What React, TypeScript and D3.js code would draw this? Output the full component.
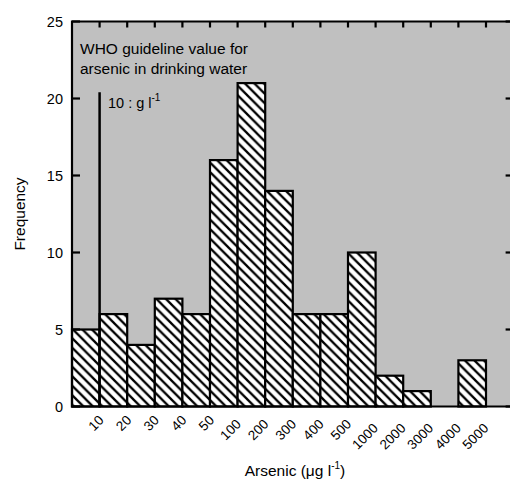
import React, { useEffect, useRef } from "react";
import * as d3 from "d3";

// bin upper edges (µg/l) and counts per bin
const binLabels = ["10", "20", "30", "40", "50", "100", "200", "300", "400", "500", "1000", "2000", "3000", "4000", "5000"];
const counts = [5, 6, 4, 7, 6, 16, 21, 14, 6, 6, 10, 2, 1, 0, 3];
const yTicks = [0, 5, 10, 15, 20, 25];
const guideline = { binEdge: 1, top: 20.4 };

const W = 510;
const H = 486;
const FONT = "'Liberation Sans', Arial, sans-serif";

const App = () => {
  const ref = useRef<SVGSVGElement>(null);

  useEffect(() => {
    drawChart();
    //eslint-disable-next-line
  }, []);

  function drawChart() {
    const svg = d3.select(ref.current);
    svg.selectAll("*").remove();

    const left = 72, top = 21.5, bottom = 406.5;
    const binW = 27.6;
    // one empty bin past the last label, right frame falls off the page
    const x = d3.scaleLinear().domain([0, binLabels.length + 1]).range([left, left + binW * (binLabels.length + 1)]);
    const y = d3.scaleLinear().domain([0, 25]).range([bottom, top]);
    const right = x(binLabels.length + 1);

    const defs = svg.append("defs");
    const pat = defs
      .append("pattern")
      .attr("id", "hatch")
      .attr("patternUnits", "userSpaceOnUse")
      .attr("width", 9.5)
      .attr("height", 9.5);
    pat.append("rect").attr("width", 9.5).attr("height", 9.5).attr("fill", "#fff");
    pat
      .append("path")
      .attr("d", "M-2,-2 L11.5,11.5 M-2,7.5 L2,11.5 M7.5,-2 L11.5,2")
      .attr("stroke", "#000")
      .attr("stroke-width", 2.3);

    // gray panel
    svg
      .append("rect")
      .attr("x", left)
      .attr("y", top)
      .attr("width", right - left)
      .attr("height", bottom - top)
      .attr("fill", "#c0c0c0");

    // bars
    svg
      .append("g")
      .selectAll("rect")
      .data(counts.map((c, i) => ({ c, i })).filter((d) => d.c > 0))
      .enter()
      .append("rect")
      .attr("x", (d) => x(d.i))
      .attr("y", (d) => y(d.c))
      .attr("width", binW)
      .attr("height", (d) => y(0) - y(d.c))
      .attr("fill", "url(#hatch)")
      .attr("stroke", "#000")
      .attr("stroke-width", 2.2);

    // guideline line
    svg
      .append("line")
      .attr("x1", x(guideline.binEdge))
      .attr("x2", x(guideline.binEdge))
      .attr("y1", y(guideline.top))
      .attr("y2", y(0))
      .attr("stroke", "#000")
      .attr("stroke-width", 2.5);

    // frame
    svg
      .append("path")
      .attr("d", `M${right},${top} L${left},${top} L${left},${bottom} L${right},${bottom}`)
      .attr("fill", "none")
      .attr("stroke", "#000")
      .attr("stroke-width", 2.2);

    // y ticks, inward on both sides
    const yt = svg.append("g");
    yTicks.forEach((t) => {
      yt.append("line").attr("x1", left).attr("x2", left + 8).attr("y1", y(t)).attr("y2", y(t)).attr("stroke", "#000").attr("stroke-width", 2.2);
      yt.append("line").attr("x1", right).attr("x2", right - 8).attr("y1", y(t)).attr("y2", y(t)).attr("stroke", "#000").attr("stroke-width", 2.2);
      yt.append("text")
        .attr("x", left - 9)
        .attr("y", y(t))
        .attr("dy", "0.36em")
        .attr("text-anchor", "end")
        .attr("font-family", FONT)
        .attr("font-size", 14.5)
        .text(t);
    });

    // top ticks at bin edges, rotated labels below
    const xt = svg.append("g");
    binLabels.forEach((lab, i) => {
      xt.append("line").attr("x1", x(i + 1)).attr("x2", x(i + 1)).attr("y1", top).attr("y2", top + 6).attr("stroke", "#000").attr("stroke-width", 2.2);
      // longer labels sit a little lower, as in the original
      const extra = lab.length - 2;
      const ex = x(i + 1) + 5 - extra * 0.85;
      const ey = bottom + 14.5 + extra * 4;
      xt.append("text")
        .attr("transform", `translate(${ex},${ey}) rotate(-45)`)
        .attr("text-anchor", "end")
        .attr("font-family", FONT)
        .attr("font-size", 13.5)
        .text(lab);
    });

    // annotation
    const ann = svg.append("g").attr("font-family", FONT).attr("font-size", 15.5);
    ann.append("text").attr("x", 80).attr("y", 54).text("WHO guideline value for");
    ann.append("text").attr("x", 80).attr("y", 74).text("arsenic in drinking water");
    const g10 = ann.append("text").attr("x", 108).attr("y", 108).attr("font-size", 14.5);
    g10.append("tspan").text("10 : g l");
    g10.append("tspan").attr("dy", -7).attr("font-size", 10).text("-1");

    // axis titles
    svg
      .append("text")
      .attr("transform", `translate(25,${(top + bottom) / 2}) rotate(-90)`)
      .attr("text-anchor", "middle")
      .attr("font-family", FONT)
      .attr("font-size", 15.5)
      .text("Frequency");

    const xl = svg
      .append("text")
      .attr("x", 295)
      .attr("y", 476)
      .attr("text-anchor", "middle")
      .attr("font-family", FONT)
      .attr("font-size", 15.5);
    xl.append("tspan").text("Arsenic (\u03bcg l");
    xl.append("tspan").attr("dy", -7).attr("font-size", 10).text("-1");
    xl.append("tspan").attr("dy", 7).text(")");
  }

  return (
    <div style={{ position: "absolute", left: 0, top: 0 }}>
      <svg ref={ref} width={W} height={H} style={{ display: "block" }}></svg>
    </div>
  );
};

export default App;
